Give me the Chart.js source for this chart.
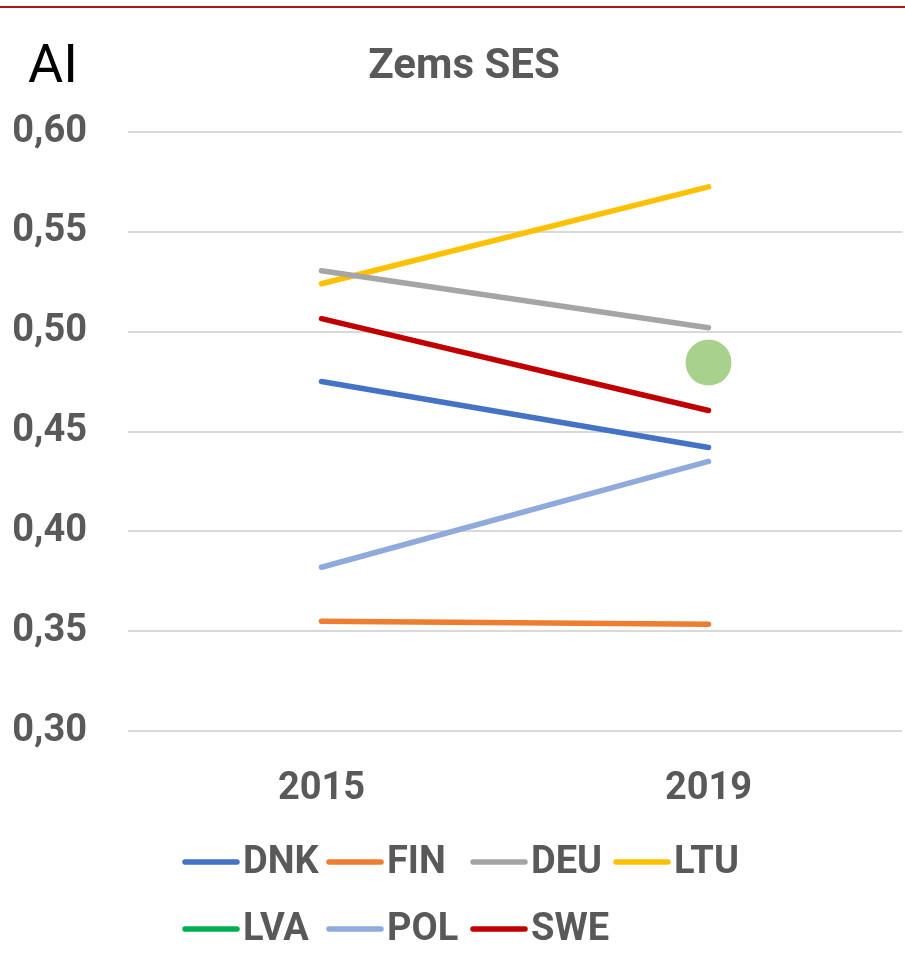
<!DOCTYPE html>
<html>
<head>
<meta charset="utf-8">
<script src="https://cdn.jsdelivr.net/npm/chart.js@4"></script>
<style>
  html, body { margin: 0; padding: 0; background: #ffffff; }
  #wrap { width: 905px; height: 966px; position: relative; }
</style>
</head>
<body>
<div id="wrap"><canvas id="c" width="905" height="966"></canvas></div>
<script>
// ---- data ----
const categories = ['2015', '2019'];
const seriesNames = ['DNK', 'FIN', 'DEU', 'LTU', 'LVA', 'POL', 'SWE'];
const dnkValues = [0.475, 0.442];
const finValues = [0.355, 0.3535];
const deuValues = [0.5305, 0.502];
const ltuValues = [0.524, 0.5725];
const lvaValues = [null, 0.4845];
const polValues = [0.382, 0.435];
const sweValues = [0.5065, 0.4605];
const yMin = 0.30;
const yMax = 0.60;
const yStep = 0.05;
const chartTitle = 'Zems SES';
const cornerLabel = 'AI';

const seriesColors = ['#4472c4', '#ed7d31', '#a5a5a5', '#ffc000', '#00b050', '#8faadc', '#c00000'];
const seriesValues = [dnkValues, finValues, deuValues, ltuValues, lvaValues, polValues, sweValues];

const GRAY = '#595959';
const FONT = 'Roboto, "DejaVu Sans", sans-serif';

const datasets = seriesNames.map((name, i) => {
  const isLva = name === 'LVA';
  return {
    label: name,
    data: seriesValues[i],
    borderColor: seriesColors[i],
    backgroundColor: seriesColors[i],
    borderWidth: 5.5,
    borderCapStyle: 'round',
    borderJoinStyle: 'round',
    pointRadius: isLva ? 23 : 0,
    pointHoverRadius: isLva ? 23 : 0,
    pointBackgroundColor: isLva ? '#a9d18e' : seriesColors[i],
    pointBorderColor: isLva ? '#a9d18e' : seriesColors[i],
    pointBorderWidth: 0,
    spanGaps: false,
    tension: 0
  };
});

// custom decorations: top rule, corner label, title, legend grid
const decorPlugin = {
  id: 'decor',
  afterDraw(chart) {
    const ctx = chart.ctx;
    ctx.save();
    // top red rule
    ctx.strokeStyle = '#b01515';
    ctx.lineWidth = 2;
    ctx.beginPath();
    ctx.moveTo(0, 7);
    ctx.lineTo(chart.width, 7);
    ctx.stroke();
    // corner label
    ctx.fillStyle = '#000000';
    ctx.font = '400 54px ' + FONT;
    ctx.textAlign = 'left';
    ctx.textBaseline = 'alphabetic';
    ctx.fillText(cornerLabel, 28, 82);
    // title
    ctx.fillStyle = GRAY;
    ctx.font = 'bold 42px ' + FONT;
    ctx.textAlign = 'center';
    ctx.fillText(chartTitle, 464, 78);
    // legend (grid layout, 4 per row)
    const colX = [183, 327, 471, 614];
    const rowY = [862, 929];
    ctx.font = 'bold 38px ' + FONT;
    ctx.textAlign = 'left';
    ctx.textBaseline = 'middle';
    chart.data.datasets.forEach((ds, i) => {
      const x = colX[i % 4];
      const y = rowY[Math.floor(i / 4)];
      ctx.strokeStyle = ds.borderColor;
      ctx.lineWidth = 5.5;
      ctx.lineCap = 'round';
      ctx.beginPath();
      ctx.moveTo(x + 2, y);
      ctx.lineTo(x + 54, y);
      ctx.stroke();
      ctx.fillStyle = GRAY;
      ctx.fillText(ds.label, x + 60, y + 1);
    });
    ctx.restore();
  }
};

new Chart(document.getElementById('c'), {
  type: 'line',
  data: { labels: categories, datasets },
  plugins: [decorPlugin],
  options: {
    responsive: false,
    animation: false,
    events: [],
    layout: { autoPadding: false, padding: { top: 132, bottom: 155, left: 0, right: 3 } },
    plugins: {
      legend: { display: false },
      title: { display: false },
      tooltip: { enabled: false }
    },
    scales: {
      x: {
        type: 'category',
        offset: true,
        grid: { display: false, drawTicks: false },
        border: { display: false },
        ticks: {
          color: GRAY,
          font: { family: FONT, size: 38, weight: 'bold' },
          padding: 36,
          maxRotation: 0
        },
        afterFit(scale) {
          scale.height = 80;
        }
      },
      y: {
        min: yMin,
        max: yMax,
        grid: { color: '#d9d9d9', lineWidth: 2, drawTicks: false },
        border: { display: false },
        ticks: {
          stepSize: yStep,
          color: GRAY,
          font: { family: FONT, size: 38, weight: 'bold' },
          padding: 41,
          callback: (v) => Number(v).toFixed(2).replace('.', ',')
        },
        afterFit(scale) { scale.width = 128; }
      }
    }
  }
});
</script>
</body>
</html>
